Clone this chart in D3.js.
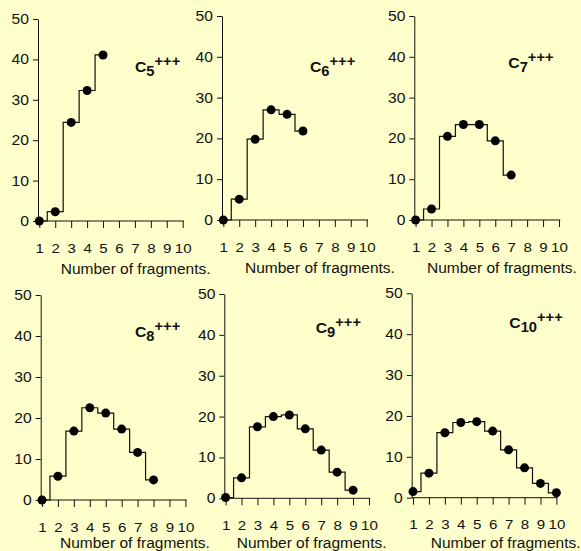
<!DOCTYPE html>
<html>
<head>
<meta charset="utf-8">
<script src="https://cdn.jsdelivr.net/npm/d3@7"></script>
<style>
  html, body { margin: 0; padding: 0; background: #ffffcc; }
  svg { display: block; font-family: "Liberation Sans", Arial, sans-serif; }
  .axis path, .axis line { stroke: #111; stroke-width: 1; }
  .axis text { fill: #111; }
</style>
</head>
<body>
<div id="chart"></div>
<script>
// values, one array per ion
var fragments = [1, 2, 3, 4, 5, 6, 7, 8, 9, 10];
var yTicks = [0, 10, 20, 30, 40, 50];
var subscripts = ["5", "6", "7", "8", "9", "10"];
var titleText = "Number of fragments.";

var c5 = [0, 2.3, 24.4, 32.3, 41.1];
var c6 = [0, 5.1, 19.8, 27.0, 25.9, 21.8];
var c7 = [0, 2.7, 20.5, 23.4, 23.4, 19.4, 11.0];
var c8 = [0, 5.8, 16.8, 22.5, 21.2, 17.3, 11.6, 4.9];
var c9 = [0.2, 5.0, 17.5, 20.0, 20.4, 17.0, 11.8, 6.4, 2.0];
var c10 = [1.5, 6.0, 15.9, 18.4, 18.6, 16.3, 11.7, 7.3, 3.5, 1.2];
var series = [c5, c6, c7, c8, c9, c10];

// panel placement (y axis x, top = value 50, bottom = value 0)
var panels = [
  { left: 38, top: 19, bottom: 221, titleX: 60.7, titleY: 274, labX: 135, labY: 72 },
  { left: 222, top: 16, bottom: 220, titleX: 245, titleY: 273, labX: 310, labY: 72 },
  { left: 414.3, top: 16, bottom: 220, titleX: 427, titleY: 273, labX: 508.3, labY: 68.3 },
  { left: 40.7, top: 295, bottom: 500, titleX: 60, titleY: 547.5, labX: 135, labY: 336.7 },
  { left: 224.3, top: 294, bottom: 498.3, titleX: 236.7, titleY: 547.5, labX: 315.7, labY: 333.3 },
  { left: 411.7, top: 293.3, bottom: 497.7, titleX: 430.7, titleY: 547.5, labX: 509.3, labY: 328.3 }
];

var W = 581, H = 551, stretch = 1.12;

var svg = d3.select("#chart").append("svg")
  .attr("width", W)
  .attr("height", H);

svg.append("rect")
  .attr("width", W)
  .attr("height", H)
  .attr("fill", "#ffffcc");

panels.forEach(function(p, i) {
  var vals = series[i];
  var x = d3.scaleLinear().domain([1, 10]).range([p.left + 1.3, p.left + 144.7]);
  var y = d3.scaleLinear().domain([0, 50]).range([p.bottom, p.top]);
  var g = svg.append("g");

  // x axis
  var xAxis = g.append("g")
    .attr("class", "axis")
    .attr("transform", "translate(0," + p.bottom + ")")
    .call(d3.axisBottom(x).tickValues(fragments).tickFormat(d3.format("d"))
      .tickSize(7).tickSizeOuter(0).tickPadding(15));
  xAxis.select(".domain").attr("d", "M" + p.left + ",0H" + (p.left + 146));
  xAxis.selectAll("text")
    .style("font-size", "13.5px")
    .attr("transform", "scale(" + stretch + ",1)");

  // y axis
  var yAxis = g.append("g")
    .attr("class", "axis")
    .attr("transform", "translate(" + p.left + ",0)")
    .call(d3.axisLeft(y).tickValues(yTicks).tickSize(5).tickSizeOuter(0).tickPadding(3));
  yAxis.selectAll("text")
    .style("font-size", "14px")
    .attr("transform", "scale(" + stretch + ",1)");

  // axis title
  g.append("text")
    .attr("x", p.titleX)
    .attr("y", p.titleY)
    .attr("fill", "#111")
    .style("font-size", "15.5px")
    .text(titleText);

  // step line
  var line = d3.line()
    .x(function(d, j) { return x(j + 1); })
    .y(function(d) { return y(d); })
    .curve(d3.curveStep);

  g.append("path")
    .datum(vals)
    .attr("d", line)
    .attr("fill", "none")
    .attr("stroke", "#111")
    .attr("stroke-width", 1.2);

  g.selectAll(".dot")
    .data(vals)
    .enter()
    .append("circle")
    .attr("class", "dot")
    .attr("cx", function(d, j) { return x(j + 1); })
    .attr("cy", function(d) { return y(d); })
    .attr("r", 4.5)
    .attr("fill", "#000");

  // C_n+++ label
  var lab = g.append("g")
    .attr("transform", "translate(" + p.labX + "," + p.labY + ") scale(1.05,1)")
    .append("text")
    .attr("fill", "#111")
    .style("font-weight", "bold");
  lab.append("tspan").style("font-size", "15px").text("C");
  lab.append("tspan").style("font-size", "14px").attr("dy", 4).text(subscripts[i]);
  lab.append("tspan").style("font-size", "14px").attr("dy", -10).text("+++");
});
</script>
</body>
</html>
